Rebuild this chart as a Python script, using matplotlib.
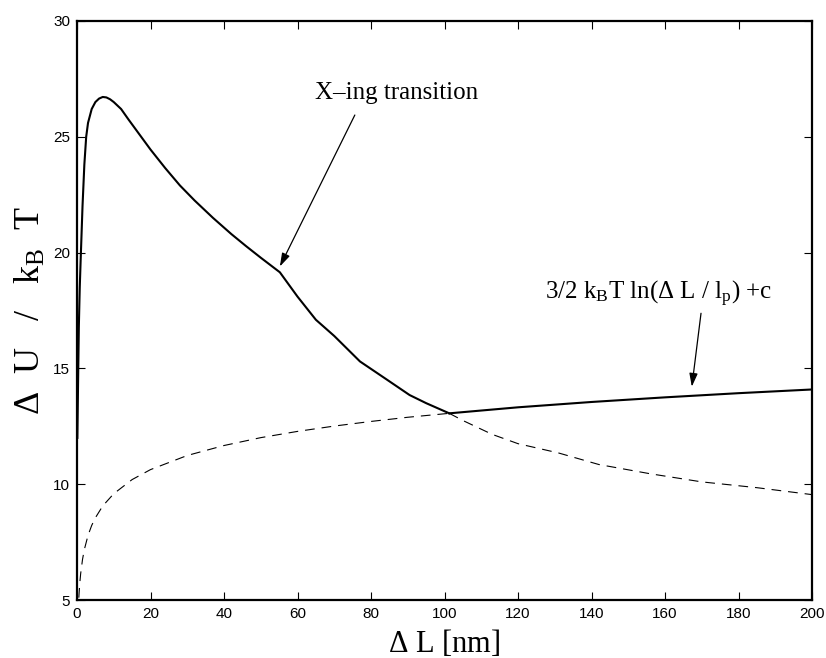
import matplotlib
matplotlib.use("Agg")
import matplotlib.pyplot as plt

# Curve A: energy barrier curve
xa = [0.1, 0.3, 0.5, 0.75, 1.0, 1.5, 2.0, 2.5, 3.0, 4.0, 5.0, 6.0, 7.0, 8.0, 9.0,
      10.0, 12.0, 14.0, 17.0, 20.0, 24.0, 28.0, 32.0, 37.0, 42.0, 46.0, 50.0, 55.2,
      60.0, 65.0, 70.0, 77.0, 84.0, 90.5, 95.0, 101.3, 105.0, 113.0, 120.0, 131.0,
      142.0, 156.0, 170.0, 185.0, 200.0]
ya = [12.0, 14.5, 16.8, 18.5, 19.7, 22.0, 23.8, 25.0, 25.6, 26.2, 26.5, 26.65, 26.72,
      26.7, 26.62, 26.5, 26.2, 25.75, 25.1, 24.45, 23.65, 22.9, 22.25, 21.5, 20.8,
      20.28, 19.78, 19.15, 18.1, 17.1, 16.4, 15.3, 14.55, 13.85, 13.5, 13.06, 12.75,
      12.15, 11.75, 11.35, 10.85, 10.45, 10.1, 9.85, 9.55]

# Curve B: 3/2 kT ln(dL/lp) + c
xb = [0.5, 0.6, 0.8, 1.0, 1.5, 2.0, 3.0, 4.0, 5.0, 7.0, 10.0, 15.0, 20.0, 30.0, 40.0,
      50.0, 60.0, 70.0, 80.0, 90.0, 101.3, 120.0, 140.0, 160.0, 180.0, 200.0]
yb = [5.1, 5.37, 5.8, 6.14, 6.75, 7.18, 7.79, 8.22, 8.55, 9.06, 9.59, 10.2, 10.63,
      11.24, 11.67, 12.01, 12.28, 12.51, 12.71, 12.89, 13.06, 13.32, 13.55, 13.75,
      13.93, 14.09]

x_cross = 101.3
xticks = list(range(0, 201, 20))
yticks = [5, 10, 15, 20, 25, 30]

plt.rcParams['mathtext.fontset'] = 'custom'
plt.rcParams['mathtext.rm'] = 'Liberation Serif'
plt.rcParams['mathtext.it'] = 'Liberation Serif'
plt.rcParams['mathtext.bf'] = 'Liberation Serif'
plt.rcParams['lines.scale_dashes'] = False

fig = plt.figure(figsize=(8.26, 6.58), dpi=100)
ax = fig.add_axes([77/826, 58/658, 735/826, 579/658])

# split into solid (upper envelope) and dashed
sa_x = [x for x in xa if x <= x_cross]
sa_y = [y for x, y in zip(xa, ya) if x <= x_cross]
da_x = [x for x in xa if x >= x_cross]
da_y = [y for x, y in zip(xa, ya) if x >= x_cross]
sb_x = [x for x in xb if x >= x_cross]
sb_y = [y for x, y in zip(xb, yb) if x >= x_cross]
db_x = [x for x in xb if x <= x_cross]
db_y = [y for x, y in zip(xb, yb) if x <= x_cross]

ax.plot(sa_x, sa_y, color='black', lw=1.5, solid_joinstyle='round')
ax.plot(sb_x, sb_y, color='black', lw=1.5)
ax.plot(db_x, db_y, color='black', lw=0.8, dashes=(7.0, 5.0))
ax.plot(da_x, da_y, color='black', lw=0.8, dashes=(7.0, 5.0))

ax.set_xlim(0, 200)
ax.set_ylim(5, 30)
ax.set_xticks(xticks)
ax.set_yticks(yticks)
ax.tick_params(direction='in', top=True, right=True, length=6, width=0.8,
               labelsize=11, pad=5)
for lab in ax.get_xticklabels() + ax.get_yticklabels():
    lab.set_fontfamily('Liberation Sans')
for s in ax.spines.values():
    s.set_linewidth(1.6)

ax.set_xlabel(r'$\Delta$ L [nm]', fontsize=22, family='Liberation Serif', labelpad=5)
ax.set_ylabel(r'$\Delta$  U   /   k$_{\mathrm{B}}$  T', fontsize=26,
              family='Liberation Serif', labelpad=4)

arrow = dict(arrowstyle='-|>,head_length=0.8,head_width=0.25', color='black', lw=0.9,
             shrinkA=0, shrinkB=0)
ax.text(87.0, 26.9, 'X\u2013ing transition', fontsize=18, family='Liberation Serif',
        ha='center', va='center')
ax.annotate('', xy=(55.2, 19.4), xytext=(75.6, 25.94), arrowprops=arrow)
ax.text(158.3, 18.2, r'3/2 k$_{\mathrm{B}}$T ln($\Delta$ L / l$_{\mathrm{p}}$) +c',
        fontsize=18, family='Liberation Serif', ha='center', va='center')
ax.annotate('', xy=(167.3, 14.21), xytext=(169.8, 17.38), arrowprops=arrow)

fig.savefig('out.png', dpi=100)
